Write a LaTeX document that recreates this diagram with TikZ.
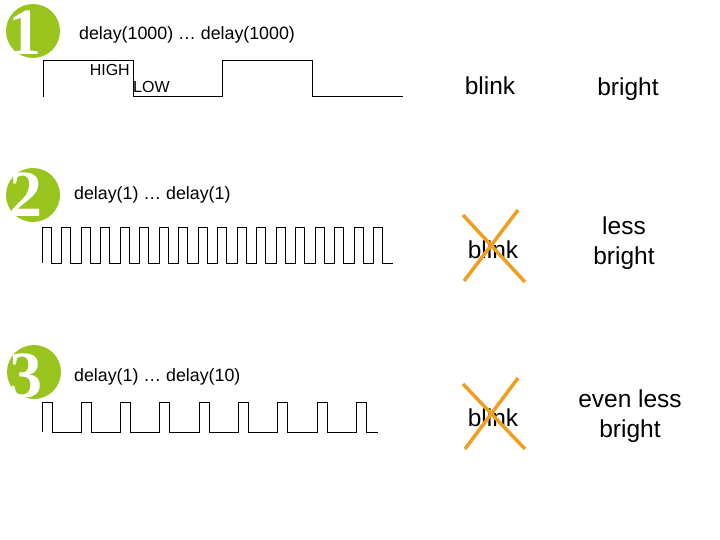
\documentclass[tikz,border=0pt]{standalone}
\usepackage{fontspec}
\setmainfont{Liberation Sans}
\newfontfamily\numfont{Liberation Serif}
\usetikzlibrary{positioning}
\definecolor{badgegreen}{RGB}{153,196,30}
\definecolor{crossorange}{RGB}{240,158,32}

\tikzset{
  badge/.style={circle, fill=badgegreen, minimum size=54pt, inner sep=0pt},
  numeral/.style={text=white, font=\numfont\bfseries\fontsize{66}{66}\selectfont, inner sep=0pt},
  delaytext/.style={anchor=west, inner sep=0pt, font=\fontsize{17.8}{21}\selectfont},
  leveltext/.style={inner sep=0pt, font=\fontsize{16}{19}\selectfont},
  word/.style={align=center, inner sep=0pt, font=\fontsize{24.5}{30}\selectfont},
  wave/.style={line width=1pt},
  cross/.style={line width=3.5pt, crossorange}
}

\begin{document}
\begin{tikzpicture}[x=1pt, y=-1pt]
 \useasboundingbox (0,0) rectangle (720,540);

 % badges
 \node[badge] (badge1) at (33,31) {};
 \node[numeral] (num1) at (25,33) {1};
 \node[badge] (badge2) at (33,195) {};
 \node[numeral] (num2) at (26,195) {2};
 \node[badge] (badge3) at (34,372) {};
 \node[numeral] (num3) at (26,376) {3};

 % delay labels
 \node[delaytext] (delay1) at (79,35) {delay(1000) … delay(1000)};
 \node[delaytext] (delay2) at (74,195) {delay(1) … delay(1)};
 \node[delaytext] (delay3) at (74,377) {delay(1) … delay(10)};

 % 1: slow blink
 \draw[wave] (43,97) |- (133,61) |- (222.7,97) |- (312.7,61) |- (403,97);
 \node[leveltext, anchor=east] (high) at (130,70) {HIGH};
 \node[leveltext, anchor=west] (low) at (133,87) {LOW};

 % 2: fast blink
 \draw[wave] (42,263)
   \foreach \i in {0,...,17} { |- ({42+19.5*\i+9},228) |- ({42+19.5*(\i+1)},263) };

 % 3: short pulses
 \draw[wave] (42,432)
   \foreach \i in {0,...,7} { |- ({42+39.3*\i+10},402) |- ({42+39.3*(\i+1)},432) }
   |- (366.4,402) |- (378,432);

 % right column
 \node[word] (blink1) at (490,86) {blink};
 \node[word] (bright1) at (628,89) {bright};
 \node[word] (blink2) at (493,250) {blink};
 \node[word] (bright2) at (624,243) {less\\bright};
 \node[word] (blink3) at (493,418) {blink};
 \node[word] (bright3) at (630,416) {even less\\bright};

 % crossed out
 \draw[cross] ([shift={(-30,-35)}]blink2.center) -- ([shift={(32,32)}]blink2.center);
 \draw[cross] ([shift={(25,-40)}]blink2.center) -- ([shift={(-29,31)}]blink2.center);
 \draw[cross] ([shift={(-30,-34)}]blink3.center) -- ([shift={(32,31)}]blink3.center);
 \draw[cross] ([shift={(25,-40)}]blink3.center) -- ([shift={(-28,31)}]blink3.center);
\end{tikzpicture}
\end{document}
